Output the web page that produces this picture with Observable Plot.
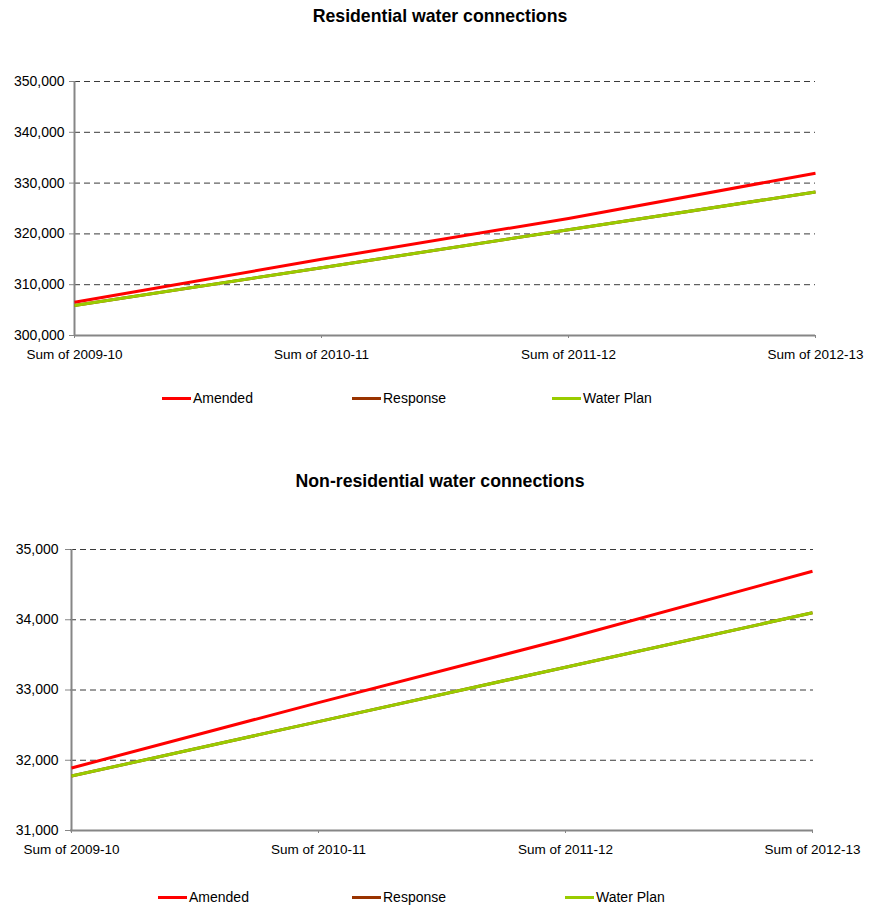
<!DOCTYPE html>
<html>
<head>
<meta charset="utf-8">
<script src="https://cdn.jsdelivr.net/npm/d3@7"></script>
<script src="https://cdn.jsdelivr.net/npm/@observablehq/plot@0.6"></script>
<style>
  html, body { margin: 0; padding: 0; background: #fff; }
  #page { position: relative; width: 880px; height: 909px; font-family: "Liberation Sans", Arial, sans-serif; color: #000; }
  .title { position: absolute; left: 0; width: 880px; text-align: center; font-weight: bold; font-size: 17.7px; line-height: 20px; }
  .chart { position: absolute; left: 0; }
  .legend-item { position: absolute; font-size: 14px; line-height: 16px; white-space: nowrap; }
  .legend-item .swatch { display: inline-block; width: 29px; height: 3px; vertical-align: middle; margin-right: 2px; position: relative; top: -1px; }
</style>
</head>
<body>
<div id="page"></div>
<script>
// Categories along the x axis
const categories = ["Sum of 2009-10", "Sum of 2010-11", "Sum of 2011-12", "Sum of 2012-13"];

// Series names and colours
const seriesNames = ["Amended", "Response", "Water Plan"];
const seriesColors = ["#ff0000", "#993300", "#99cc00"];

// Residential water connections
const resAmended   = [306550, 315000, 323050, 331950];
const resResponse  = [305900, 313350, 320800, 328250];
const resWaterPlan = [305900, 313350, 320800, 328250];
const resTicks = [300000, 310000, 320000, 330000, 340000, 350000];

// Non-residential water connections
const nonAmended   = [31890, 32820, 33730, 34690];
const nonResponse  = [31775, 32550, 33325, 34100];
const nonWaterPlan = [31775, 32550, 33325, 34100];
const nonTicks = [31000, 32000, 33000, 34000, 35000];

function toRows(lists) {
  const rows = [];
  seriesNames.forEach((name, i) => {
    lists[i].forEach((v, j) => rows.push({category: categories[j], series: name, value: v}));
  });
  return rows;
}

function panel({rows, ticks, height, marginTop, marginBottom, marginLeft, marginRight, tickPadding}) {
  const axisColor = "#868686";
  return Plot.plot({
    width: 880,
    height,
    marginTop, marginBottom, marginLeft, marginRight,
    style: {fontFamily: "'Liberation Sans', Arial, sans-serif", fontSize: "14px", color: "#000", background: "transparent", overflow: "visible"},
    x: {type: "point", domain: categories, padding: 0, label: null},
    y: {domain: [ticks[0], ticks[ticks.length - 1]], label: null},
    color: {domain: seriesNames, range: seriesColors},
    marks: [
      Plot.ruleY(ticks.slice(1), {stroke: "#3a3a3a", strokeWidth: 1, strokeDasharray: "6,4"}),
      Plot.ruleX([categories[0]], {stroke: axisColor, strokeWidth: 2}),
      Plot.ruleY([ticks[0]], {stroke: axisColor, strokeWidth: 2}),
      Plot.axisY({ticks, tickFormat: d3.format(","), tickSize: 5, tickPadding, stroke: axisColor, fill: "#000", fontSize: 14, label: null}),
      Plot.axisX({tickSize: 3, tickPadding: 11, stroke: axisColor, fill: "#000", fontSize: 13.5, label: null}),
      Plot.line(rows, {x: "category", y: "value", z: "series", stroke: "series", strokeWidth: 3, strokeLinecap: "butt"})
    ]
  });
}

const page = document.getElementById("page");

function addTitle(text, top) {
  const d = document.createElement("div");
  d.className = "title";
  d.style.top = top + "px";
  d.textContent = text;
  page.appendChild(d);
}

function addChart(svg, top) {
  svg.classList.add("chart");
  svg.style.position = "absolute";
  svg.style.top = top + "px";
  svg.style.left = "0px";
  page.appendChild(svg);
}

function addLegend(top, lefts) {
  seriesNames.forEach((name, i) => {
    const item = document.createElement("div");
    item.className = "legend-item";
    item.style.top = top + "px";
    item.style.left = lefts[i] + "px";
    const sw = document.createElement("span");
    sw.className = "swatch";
    sw.style.background = seriesColors[i];
    item.appendChild(sw);
    item.appendChild(document.createTextNode(name));
    page.appendChild(item);
  });
}

// Residential panel
addTitle("Residential water connections", 6);
addChart(panel({
  rows: toRows([resAmended, resResponse, resWaterPlan]),
  ticks: resTicks,
  height: 330, marginTop: 41, marginBottom: 35, marginLeft: 74, marginRight: 65, tickPadding: 5
}), 40);
addLegend(390, [162, 352, 552]);

// Non-residential panel
addTitle("Non-residential water connections", 471);
addChart(panel({
  rows: toRows([nonAmended, nonResponse, nonWaterPlan]),
  ticks: nonTicks,
  height: 370, marginTop: 49, marginBottom: 40, marginLeft: 70, marginRight: 67, tickPadding: 7
}), 500);
addLegend(889, [158, 352, 565]);
</script>
</body>
</html>
